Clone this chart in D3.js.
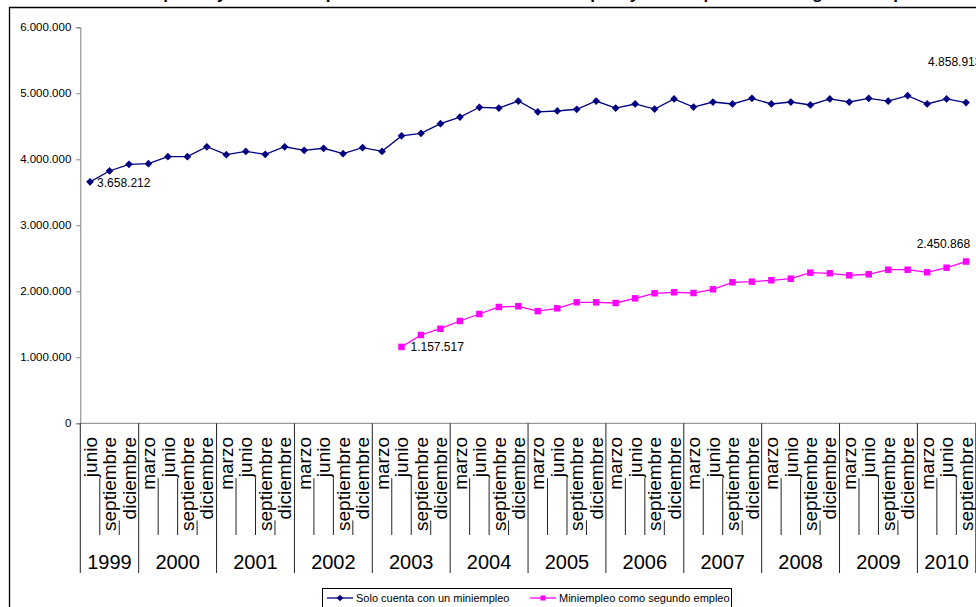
<!DOCTYPE html>
<html>
<head>
<meta charset="utf-8">
<script src="https://cdn.jsdelivr.net/npm/d3@7"></script>
<style>
  html, body { margin: 0; padding: 0; background: #fff; }
  svg { display: block; font-family: Arial, "Liberation Sans", sans-serif; }
</style>
</head>
<body>
<svg id="chart" width="976" height="607"></svg>
<script>
// ---- data ----
const quarters = [
  "junio","septiembre","diciembre",
  "marzo","junio","septiembre","diciembre",
  "marzo","junio","septiembre","diciembre",
  "marzo","junio","septiembre","diciembre",
  "marzo","junio","septiembre","diciembre",
  "marzo","junio","septiembre","diciembre",
  "marzo","junio","septiembre","diciembre",
  "marzo","junio","septiembre","diciembre",
  "marzo","junio","septiembre","diciembre",
  "marzo","junio","septiembre","diciembre",
  "marzo","junio","septiembre","diciembre",
  "marzo","junio","septiembre"
];
const years = ["1999","2000","2001","2002","2003","2004","2005","2006","2007","2008","2009","2010"];
const quartersPerYear = [3,4,4,4,4,4,4,4,4,4,4,3];
const yTicks = [0,1000000,2000000,3000000,4000000,5000000,6000000];
const seriesNames = ["Solo cuenta con un miniempleo","Miniempleo como segundo empleo"];
const soloMiniempleo = [
  3658212,3823000,3924000,3934000,4040000,4040000,4190000,4070000,4120000,4075000,
  4190000,4136000,4167000,4085000,4176000,4120000,4355000,4394000,4540000,4640000,
  4788000,4777000,4883000,4720000,4732000,4758000,4883000,4777000,4838000,4762000,
  4914000,4792000,4868000,4838000,4924000,4838000,4868000,4823000,4914000,4868000,
  4924000,4883000,4964000,4838000,4914000,4858913
];
const segundoEmpleo = [
  null,null,null,null,null,null,null,null,null,null,null,null,null,null,null,null,
  1157517,1338000,1433000,1550000,1656000,1762000,1773000,1700000,1742000,1833000,
  1833000,1823000,1894000,1970000,1985000,1974000,2030000,2136000,2146000,2167000,
  2191000,2282000,2273000,2242000,2258000,2327000,2327000,2288000,2358000,2450868
];
const titleText = "Personas ocupadas y con miniempleo: solo cuenta con un miniempleo y miniempleo como segundo empleo";

(function () {
// ---- layout ----
const svg = d3.select("#chart");
const pLeft = 80.3, pRight = 975.8, pTop = 27.3, pBottom = 423.3;
const idx = d3.range(quarters.length);
const x = d3.scaleBand().domain(idx).range([pLeft, pRight]).padding(0);
const y = d3.scaleLinear().domain([0, 6000000]).range([pBottom, pTop]);
const loc = d3.formatLocale({thousands: ".", decimal: ",", grouping: [3], currency: ["", ""]});
const fmt = loc.format(",d");
const cx = i => x(i) + x.bandwidth() / 2;

// title (cut off at top)
svg.append("text").attr("x", 490).attr("y", -1).attr("text-anchor", "middle")
  .attr("font-size", 17).attr("font-weight", "bold").attr("fill", "#000").text(titleText);

// chart frame
svg.append("path").attr("d", "M9.5,620 V7.5 H990").attr("fill", "none")
  .attr("stroke", "#000").attr("stroke-width", 1.3);

// y axis
const yAxis = svg.append("g").attr("transform", `translate(${pLeft},0)`)
  .call(d3.axisLeft(y).tickValues(yTicks).tickSize(4).tickPadding(5).tickFormat(fmt));
yAxis.select(".domain").attr("stroke", "#808080");
yAxis.selectAll(".tick line").attr("stroke", "#808080");
yAxis.selectAll(".tick text").attr("font-size", 11.5).attr("fill", "#000")
  .attr("font-family", "Arial, 'Liberation Sans', sans-serif");

// x axis baseline
svg.append("line").attr("x1", pLeft).attr("x2", pRight + 2).attr("y1", y(0)).attr("y2", y(0))
  .attr("stroke", "#808080").attr("stroke-width", 1);

// month labels
const labelTop = 437;
const monthG = svg.append("g");
const monthTexts = monthG.selectAll("text").data(idx).join("text")
  .attr("transform", i => `translate(${cx(i)},${labelTop}) rotate(-90)`)
  .attr("text-anchor", "end").attr("dy", "0.35em")
  .attr("font-size", 19).attr("fill", "#000").text(i => quarters[i]);
const lens = [];
monthTexts.each(function(i) { lens[i] = this.getComputedTextLength(); });

// year boundaries
const yearStart = [];
let acc = 0;
quartersPerYear.forEach(n => { yearStart.push(acc); acc += n; });
const yearBoundaries = new Set(yearStart.concat([quarters.length]));

// separators between quarters
const sepG = svg.append("g").attr("stroke", "#222").attr("stroke-width", 1);
for (let k = 0; k <= quarters.length; k++) {
  const xb = k < quarters.length ? x(k) : pRight;
  if (yearBoundaries.has(k)) {
    sepG.append("line").attr("x1", xb).attr("x2", xb).attr("y1", y(0)).attr("y2", 573);
  } else {
    const ys = labelTop + Math.min(lens[k - 1], lens[k]) + 1;
    sepG.append("line").attr("x1", xb).attr("x2", xb).attr("y1", ys).attr("y2", 535);
  }
}

// year labels
const yearEnd = j => (yearStart[j] + quartersPerYear[j] < quarters.length ? x(yearStart[j] + quartersPerYear[j]) : pRight);
svg.append("g").selectAll("text").data(years).join("text")
  .attr("x", (d, j) => (x(yearStart[j]) + yearEnd(j)) / 2)
  .attr("y", 569).attr("text-anchor", "middle").attr("font-size", 20).attr("fill", "#000")
  .text(d => d);

// lines
const lineGen = d3.line().defined(d => d[1] != null).x(d => cx(d[0])).y(d => y(d[1]));
const blueData = soloMiniempleo.map((v, i) => [i, v]);
const pinkData = segundoEmpleo.map((v, i) => [i, v]);
const blue = "#000080", pink = "#FF00FF";
svg.append("path").datum(blueData).attr("d", lineGen).attr("fill", "none")
  .attr("stroke", blue).attr("stroke-width", 1.3);
svg.append("path").datum(pinkData).attr("d", lineGen).attr("fill", "none")
  .attr("stroke", pink).attr("stroke-width", 1.3);

svg.append("g").selectAll("path").data(blueData).join("path")
  .attr("d", d3.symbol().type(d3.symbolSquare).size(30)()).attr("fill", blue)
  .attr("transform", d => `translate(${cx(d[0])},${y(d[1])}) rotate(45)`);
svg.append("g").selectAll("path").data(pinkData.filter(d => d[1] != null)).join("path")
  .attr("transform", d => `translate(${cx(d[0])},${y(d[1])})`)
  .attr("d", d3.symbol().type(d3.symbolSquare).size(42)()).attr("fill", pink);

// data labels
const n = quarters.length - 1;
const firstPink = segundoEmpleo.findIndex(v => v != null);
const lbl = (i, v, dx, dy, anchor) => svg.append("text")
  .attr("x", cx(i) + dx).attr("y", y(v) + dy).attr("text-anchor", anchor)
  .attr("font-size", 12).attr("fill", "#000").text(fmt(v));
lbl(0, soloMiniempleo[0], 7, 5, "start");
lbl(n, soloMiniempleo[n], -38, -37, "start");
lbl(firstPink, segundoEmpleo[firstPink], 9, 4.5, "start");
lbl(n, segundoEmpleo[n], 4, -13.5, "end");

// legend
const lg = svg.append("g");
lg.append("rect").attr("x", 322.5).attr("y", 588.5).attr("width", 409).attr("height", 40)
  .attr("fill", "#fff").attr("stroke", "#000").attr("stroke-width", 1);
const legendItems = [
  {name: seriesNames[0], color: blue, x0: 327, kind: "d"},
  {name: seriesNames[1], color: pink, x0: 530, kind: "s"}
];
legendItems.forEach(it => {
  lg.append("line").attr("x1", it.x0).attr("x2", it.x0 + 26).attr("y1", 598).attr("y2", 598)
    .attr("stroke", it.color).attr("stroke-width", 1.3);
  if (it.kind === "d") {
    lg.append("path").attr("transform", `translate(${it.x0 + 13},598) rotate(45)`)
      .attr("d", d3.symbol().type(d3.symbolSquare).size(22)()).attr("fill", it.color);
  } else {
    lg.append("path").attr("transform", `translate(${it.x0 + 13},598)`)
      .attr("d", d3.symbol().type(d3.symbolSquare).size(26)()).attr("fill", it.color);
  }
  lg.append("text").attr("x", it.x0 + 29).attr("y", 602).attr("font-size", 11)
    .attr("fill", "#000").text(it.name);
});
})();
</script>
</body>
</html>
